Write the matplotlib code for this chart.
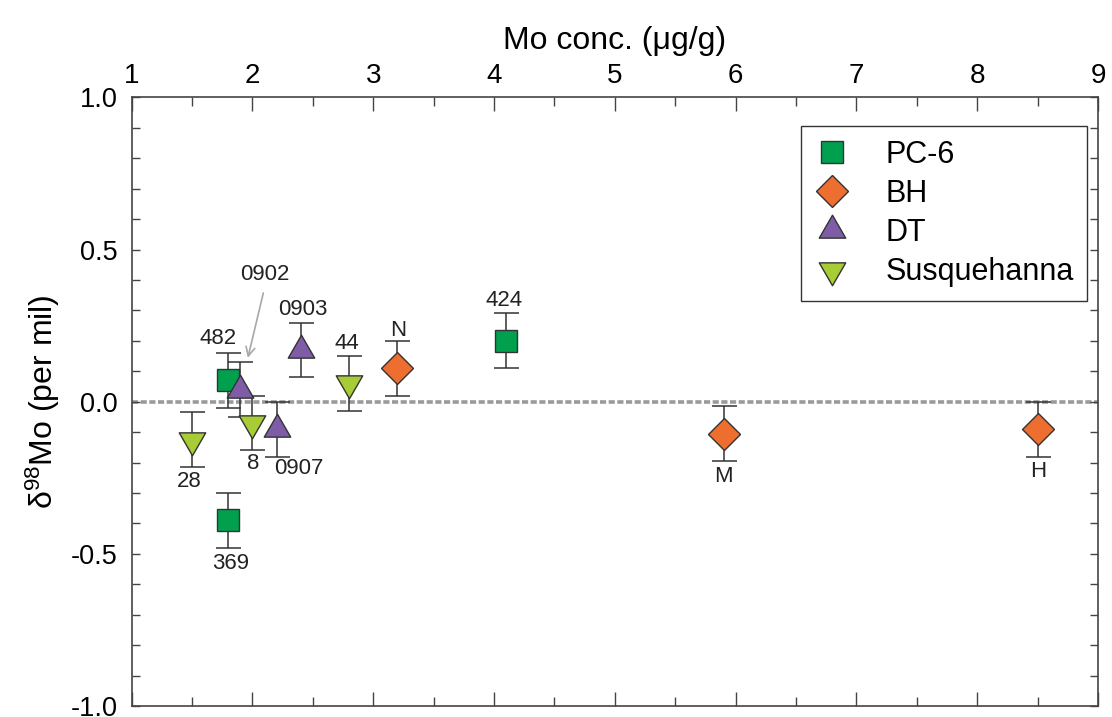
import matplotlib

matplotlib.use("Agg")
import matplotlib.pyplot as plt
import numpy as np
from matplotlib.lines import Line2D
from matplotlib.path import Path

plt.rcParams["font.family"] = ["Liberation Sans", "DejaVu Sans"]
plt.rcParams["mathtext.fontset"] = "custom"
plt.rcParams["mathtext.rm"] = "Liberation Sans"
plt.rcParams["mathtext.default"] = "regular"

# data: Mo concentration (ug/g), delta98Mo (per mil), 2 s.e.
pc6_x = [1.8, 1.8, 4.1]
pc6_y = [0.07, -0.39, 0.20]
pc6_err = [0.09, 0.09, 0.09]
pc6_labels = ["482", "369", "424"]

bh_x = [3.2, 5.9, 8.5]
bh_y = [0.11, -0.105, -0.09]
bh_err = [0.09, 0.09, 0.09]
bh_labels = ["N", "M", "H"]

dt_x = [1.9, 2.4, 2.2]
dt_y = [0.04, 0.17, -0.09]
dt_err = [0.09, 0.09, 0.09]
dt_labels = ["0902", "0903", "0907"]

sq_x = [1.5, 2.0, 2.8]
sq_y = [-0.125, -0.07, 0.06]
sq_err = [0.09, 0.09, 0.09]
sq_labels = ["28", "8", "44"]

# label offsets from each point, in points
pc6_off = [(-7.6, 30), (1.4, -31), (-1.4, 29.4)]
bh_off = [(0.4, 27), (0, -31), (0, -30.5)]
dt_off = [(18, 83), (1.2, 29), (16, -28.6)]
sq_off = [(-1.9, -29.8), (0.4, -29), (-1.7, 28.5)]

# equilateral triangles centred on their centroid
h = np.sqrt(3)
tri_up = Path([(-1, -h / 3), (1, -h / 3), (0, 2 * h / 3), (-1, -h / 3)], closed=True)
tri_dn = Path([(-1, h / 3), (1, h / 3), (0, -2 * h / 3), (-1, h / 3)], closed=True)

series = [
    ("PC-6", pc6_x, pc6_y, pc6_err, pc6_labels, pc6_off, "s", 16.5, "#00A04E"),
    ("BH", bh_x, bh_y, bh_err, bh_labels, bh_off, "D", 16, "#EE6E30"),
    ("DT", dt_x, dt_y, dt_err, dt_labels, dt_off, tri_up, 22, "#7F5CA6"),
    ("Susquehanna", sq_x, sq_y, sq_err, sq_labels, sq_off, tri_dn, 22, "#A8CC36"),
]

edge = "#333333"
fig = plt.figure(figsize=(11.12, 7.17), dpi=100)
ax = fig.add_axes([0.1183, 0.0153, 0.8692, 0.8488])

ax.axhline(0, color="#9a9a9a", lw=2.6, ls=(0, (1.7, 0.7)), zorder=1.5)

handles = []
for name, xs, ys, errs, labels, offs, marker, ms, color in series:
    ax.errorbar(xs, ys, yerr=errs, fmt="none", ecolor=edge, elinewidth=1.1,
                capsize=9, capthick=1.1, zorder=2)
    ax.plot(xs, ys, ls="none", marker=marker, ms=ms, mfc=color, mec=edge,
            mew=1.0, zorder=3)
    handles.append(Line2D([], [], ls="none", marker=marker, ms=ms, mfc=color,
                          mec=edge, mew=1.0, label=name))
    for x, y, lab, (dx, dy) in zip(xs, ys, labels, offs):
        if lab == "0902":
            ax.annotate(lab, (x, y), xytext=(dx, dy), textcoords="offset points",
                        ha="center", va="center", fontsize=16, color="#222222",
                        arrowprops=dict(arrowstyle="->", color="#a8a8a8", lw=1.2,
                                        relpos=(0.5, 0), shrinkA=4, shrinkB=23.5))
        else:
            ax.annotate(lab, (x, y), xytext=(dx, dy), textcoords="offset points",
                        ha="center", va="center", fontsize=16, color="#222222")

ax.set_xlim(1, 9)
ax.set_ylim(-1, 1)
ax.set_xticks(np.arange(1, 10, 1))
ax.set_xticks(np.arange(1.5, 9, 1), minor=True)
ax.set_yticks([-1.0, -0.5, 0.0, 0.5, 1.0])
ax.set_yticks(np.arange(-0.9, 1.0, 0.1), minor=True)
ax.set_yticklabels(["-1.0", "-0.5", "0.0", "0.5", "1.0"])

ax.xaxis.tick_top()
ax.xaxis.set_label_position("top")
ax.tick_params(axis="x", which="both", direction="in", top=True, bottom=True,
               labeltop=True, labelbottom=False, color="#444444", width=1.0)
ax.tick_params(axis="x", which="major", length=10, labelsize=20, pad=6)
ax.tick_params(axis="x", which="minor", length=6.3)
ax.tick_params(axis="y", which="both", direction="in", left=True, right=True,
               length=6, color="#444444", width=1.0)
ax.tick_params(axis="y", which="major", labelsize=19.5, pad=10)

for sp in ax.spines.values():
    sp.set_color("#444444")
    sp.set_linewidth(1.2)

ax.set_xlabel("Mo conc. (\u03bcg/g)", fontsize=23, labelpad=10)
ax.set_ylabel(r"$\delta^{98}$Mo (per mil)", fontsize=23, labelpad=6)

leg = ax.legend(handles=handles, loc="upper right", bbox_to_anchor=(0.989, 0.953),
                borderaxespad=0, fontsize=22, frameon=True, fancybox=False,
                edgecolor="#333333", framealpha=1, handlelength=1.1,
                handletextpad=1.2, labelspacing=0.3, borderpad=0.45)
leg.get_frame().set_linewidth(1.0)

fig.savefig("out.png", dpi=100)
